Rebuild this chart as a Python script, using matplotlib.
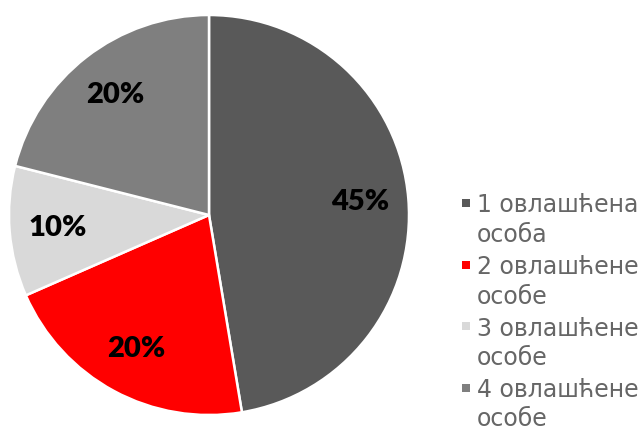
import matplotlib
matplotlib.use('Agg')
import matplotlib.pyplot as plt
from matplotlib.patches import Rectangle
import numpy as np

labels = ['1 овлашћена\nособа', '2 овлашћене\nособе', '3 овлашћене\nособе', '4 овлашћене\nособе']
values = [45, 20, 10, 20]
colors = ['#595959', '#ff0000', '#d9d9d9', '#7f7f7f']

W, H = 643, 432
fig = plt.figure(figsize=(W / 100, H / 100), dpi=100)
ax = fig.add_axes([9 / W, 17 / H, 400 / W, 400 / H])

wedges, _ = ax.pie(values, colors=colors, startangle=90, counterclock=False,
                   radius=1, wedgeprops=dict(edgecolor='white', linewidth=1.8))
ax.set_xlim(-1, 1)
ax.set_ylim(-1, 1)
ax.set_aspect('equal')

# percentage labels placed at each wedge's mid angle
for w, v in zip(wedges, values):
    mid = np.deg2rad((w.theta1 + w.theta2) / 2)
    r = 0.76
    ax.text(r * np.cos(mid), r * np.sin(mid), f'{v}%', ha='center', va='center',
            fontsize=21, fontweight='heavy', color='black', family='Lato')

# legend: small square aligned with the first line of each two-line label
for i, (lab, c) in enumerate(zip(labels, colors)):
    y = 203 + 61.5 * i
    fig.patches.append(Rectangle((462 / W, 1 - (y + 4) / H), 8 / W, 8 / H,
                                 facecolor=c, edgecolor='none',
                                 transform=fig.transFigure, figure=fig))
    for j, line in enumerate(lab.split('\n')):
        fig.text(477 / W, 1 - (y + 29.5 * j) / H, line, ha='left', va='center_baseline',
                 fontsize=17, color='#666666')

fig.savefig('out.png', dpi=100)
